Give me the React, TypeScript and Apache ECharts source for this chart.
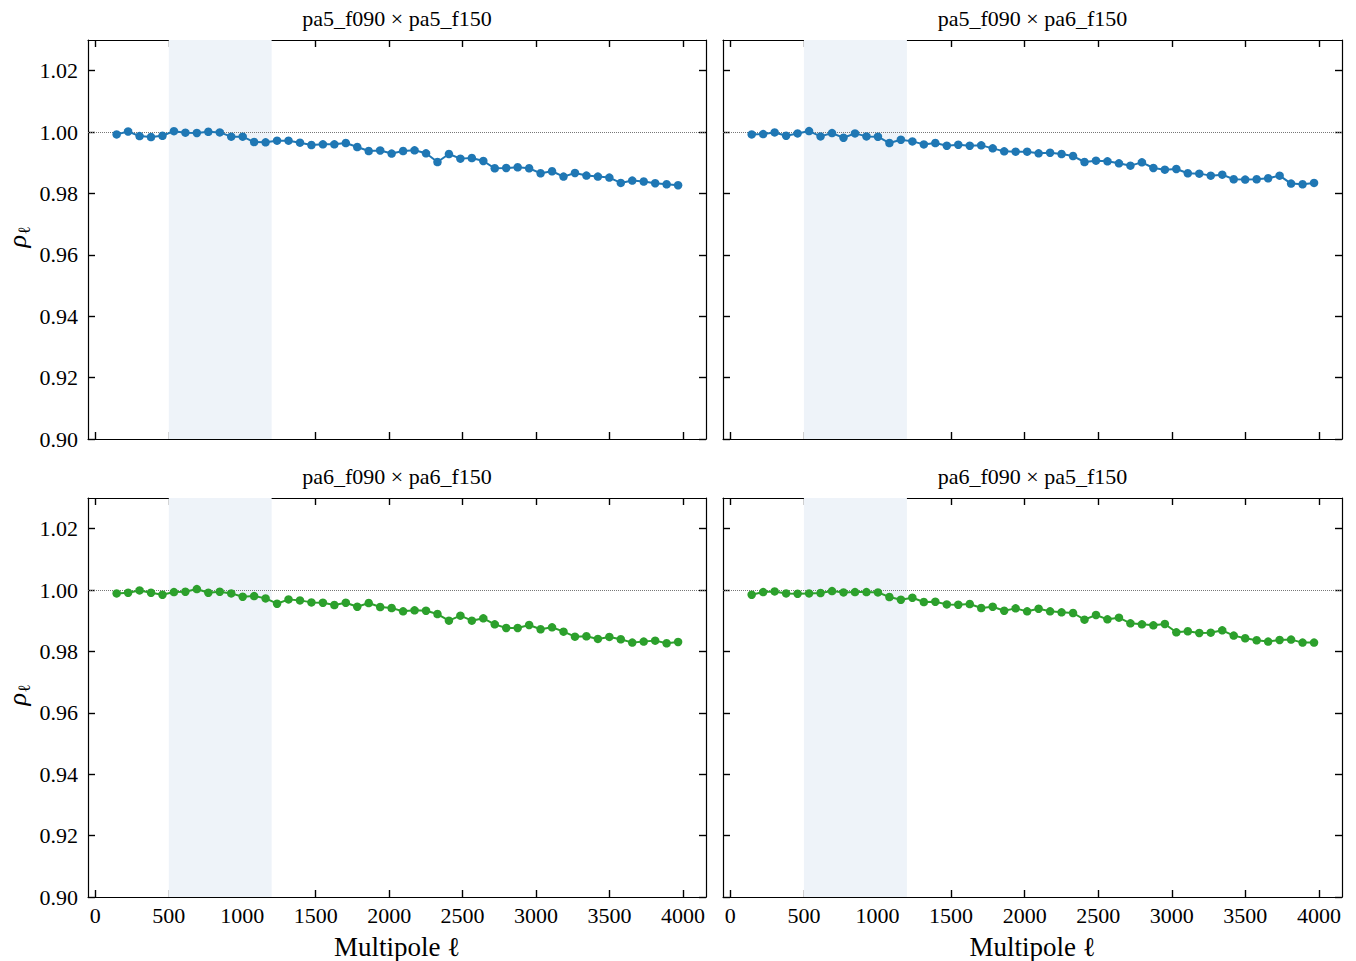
import React, { useEffect, useRef } from "react";
import * as echarts from "echarts";

const ell = [145, 223, 301, 379, 457, 535, 613, 691, 769, 847, 925, 1003, 1081, 1159, 1237, 1315, 1393, 1471, 1549, 1627, 1705, 1783, 1861, 1939, 2017, 2095, 2173, 2251, 2329, 2407, 2485, 2563, 2641, 2719, 2797, 2875, 2953, 3031, 3109, 3187, 3265, 3343, 3421, 3499, 3577, 3655, 3733, 3811, 3889, 3967];

const rhoPa5Pa5 = [0.99925, 1.0002, 0.9987, 0.99838, 0.9988, 1.0003, 0.9998, 0.9997, 1.0001, 0.9999, 0.9985, 0.9985, 0.99675, 0.99665, 0.9972, 0.9972, 0.99655, 0.99578, 0.996, 0.996, 0.99643, 0.99513, 0.99383, 0.994, 0.993, 0.99383, 0.99405, 0.99308, 0.99025, 0.99285, 0.99135, 0.99155, 0.99058, 0.9882, 0.9883, 0.98853, 0.9882, 0.98658, 0.98723, 0.9855, 0.98668, 0.98583, 0.9855, 0.98518, 0.98343, 0.9842, 0.98388, 0.98333, 0.983, 0.98268];
const rhoPa5Pa6 = [0.99924, 0.99935, 0.99989, 0.99881, 0.99957, 1.00033, 0.99859, 0.99968, 0.99816, 0.99957, 0.99859, 0.99848, 0.99643, 0.99751, 0.99697, 0.99599, 0.99643, 0.99556, 0.99588, 0.99556, 0.99567, 0.99469, 0.99372, 0.99361, 0.99361, 0.99307, 0.99328, 0.99285, 0.9922, 0.99025, 0.99068, 0.99047, 0.98982, 0.98906, 0.99014, 0.9883, 0.98776, 0.98798, 0.98657, 0.98646, 0.98581, 0.98613, 0.98462, 0.98451, 0.98462, 0.98494, 0.98581, 0.98321, 0.98299, 0.98343];
const rhoPa6Pa6 = [0.99892, 0.99913, 0.99989, 0.99913, 0.99848, 0.99935, 0.99946, 1.00033, 0.99913, 0.99946, 0.99892, 0.99783, 0.99805, 0.99729, 0.99556, 0.99697, 0.99664, 0.99599, 0.99588, 0.99513, 0.99588, 0.99458, 0.99578, 0.99448, 0.99415, 0.99307, 0.99339, 0.99328, 0.9922, 0.99003, 0.99166, 0.99003, 0.99079, 0.98884, 0.98765, 0.98765, 0.98863, 0.98722, 0.98787, 0.98646, 0.98483, 0.98494, 0.98408, 0.98473, 0.98397, 0.98288, 0.98321, 0.98353, 0.98267, 0.9831];
const rhoPa6Pa5 = [0.99848, 0.99935, 0.99957, 0.99892, 0.99881, 0.99892, 0.99903, 0.99968, 0.99924, 0.99935, 0.99935, 0.99924, 0.99773, 0.99686, 0.99751, 0.9961, 0.99621, 0.99534, 0.99523, 0.99545, 0.99415, 0.99458, 0.99328, 0.99404, 0.99307, 0.99393, 0.99307, 0.99274, 0.99253, 0.99036, 0.99188, 0.99047, 0.99101, 0.98917, 0.98884, 0.98852, 0.98895, 0.98624, 0.98657, 0.98603, 0.98613, 0.98689, 0.98516, 0.98429, 0.98364, 0.98321, 0.98375, 0.98386, 0.98288, 0.98288];

const panelTitles = ["pa5_f090 × pa5_f150", "pa5_f090 × pa6_f150", "pa6_f090 × pa6_f150", "pa6_f090 × pa5_f150"];
const xTicks = [0, 500, 1000, 1500, 2000, 2500, 3000, 3500, 4000];
const yTicks = [0.9, 0.92, 0.94, 0.96, 0.98, 1.0, 1.02];
const band = [500, 1200];

const FONT = "'Liberation Serif', 'DejaVu Serif', serif";

export default function App() {
  const ref = useRef<HTMLDivElement>(null);
  useEffect(() => {
    document.body.style.margin = "0";
    const chart = echarts.init(ref.current!, null, { renderer: "svg" });
    const panels = [
      { left: 88, top: 40, width: 618, height: 399, data: rhoPa5Pa5, color: "#1f77b4", xl: false, yl: true },
      { left: 723, top: 40, width: 619, height: 399, data: rhoPa5Pa6, color: "#1f77b4", xl: false, yl: false },
      { left: 88, top: 498, width: 618, height: 399, data: rhoPa6Pa6, color: "#2ca02c", xl: true, yl: true },
      { left: 723, top: 498, width: 619, height: 399, data: rhoPa6Pa5, color: "#2ca02c", xl: true, yl: false },
    ];
    const axisLine = { show: true, onZero: false, lineStyle: { color: "#000", width: 1.2 } };
    const grid: any[] = [];
    const xAxis: any[] = [];
    const yAxis: any[] = [];
    const series: any[] = [];
    const graphic: any[] = [];
    panels.forEach((p, i) => {
      grid.push({ left: p.left, top: p.top, width: p.width, height: p.height, containLabel: false });
      ["bottom", "top"].forEach((pos) => {
        xAxis.push({
          type: "value", gridIndex: i, position: pos, min: -50, max: 4157,
          axisLine,
          axisTick: { show: true, inside: true, length: 7, customValues: xTicks, lineStyle: { color: "#000", width: 1.4 } },
          axisLabel: {
            show: pos === "bottom" && p.xl, customValues: xTicks, color: "#000", fontFamily: FONT, fontSize: 22, margin: 7,
            formatter: (v: number) => String(v),
          },
          splitLine: { show: false },
        });
      });
      ["left", "right"].forEach((pos) => {
        yAxis.push({
          type: "value", gridIndex: i, position: pos, min: 0.9, max: 1.03,
          axisLine,
          axisTick: { show: true, inside: true, length: 7, customValues: yTicks, lineStyle: { color: "#000", width: 1.4 } },
          axisLabel: {
            show: pos === "left" && p.yl, customValues: yTicks, color: "#000", fontFamily: FONT, fontSize: 22, margin: 10,
            formatter: (v: number) => v.toFixed(2),
          },
          splitLine: { show: false },
        });
      });
      series.push({
        type: "line", xAxisIndex: 2 * i, yAxisIndex: 2 * i,
        data: ell.map((l, k) => [l, p.data[k]]),
        symbol: "circle", symbolSize: 8.5, showSymbol: true,
        lineStyle: { color: p.color, width: 2 }, itemStyle: { color: p.color },
        z: 5,
        markArea: {
          silent: true,
          itemStyle: { color: "#eef3f9" },
          data: [[{ xAxis: band[0] }, { xAxis: band[1] }]],
        },
        markLine: {
          silent: true, symbol: "none", label: { show: false },
          lineStyle: { color: "#777", type: "dotted", width: 1 },
          data: [{ yAxis: 1.0 }],
        },
      });
      const cx = p.left + p.width / 2;
      graphic.push({
        type: "text", x: cx, y: p.top - 22,
        style: { text: panelTitles[i], font: `22px ${FONT}`, fill: "#000", textAlign: "center", textVerticalAlign: "middle" },
      });
      if (p.xl) {
        graphic.push({
          type: "text", x: cx, y: p.top + p.height + 50,
          style: { text: "Multipole ℓ", font: `27px ${FONT}`, fill: "#000", textAlign: "center", textVerticalAlign: "middle" },
        });
      }
      if (p.yl) {
        graphic.push({
          type: "group", x: 17, y: p.top + p.height / 2 + 8, rotation: Math.PI / 2,
          children: [
            { type: "text", x: 0, y: 0, style: { text: "ρ", font: `italic 26px ${FONT}`, fill: "#000", textAlign: "left", textVerticalAlign: "middle" } },
            { type: "text", x: 13, y: 7, style: { text: "ℓ", font: `17px ${FONT}`, fill: "#000", textAlign: "left", textVerticalAlign: "middle" } },
          ],
        });
      }
    });
    chart.setOption({
      animation: false,
      backgroundColor: "#fff",
      grid, xAxis, yAxis, series, graphic,
    });
    return () => chart.dispose();
  }, []);
  return <div ref={ref} style={{ width: 1356, height: 961 }} />;
}
